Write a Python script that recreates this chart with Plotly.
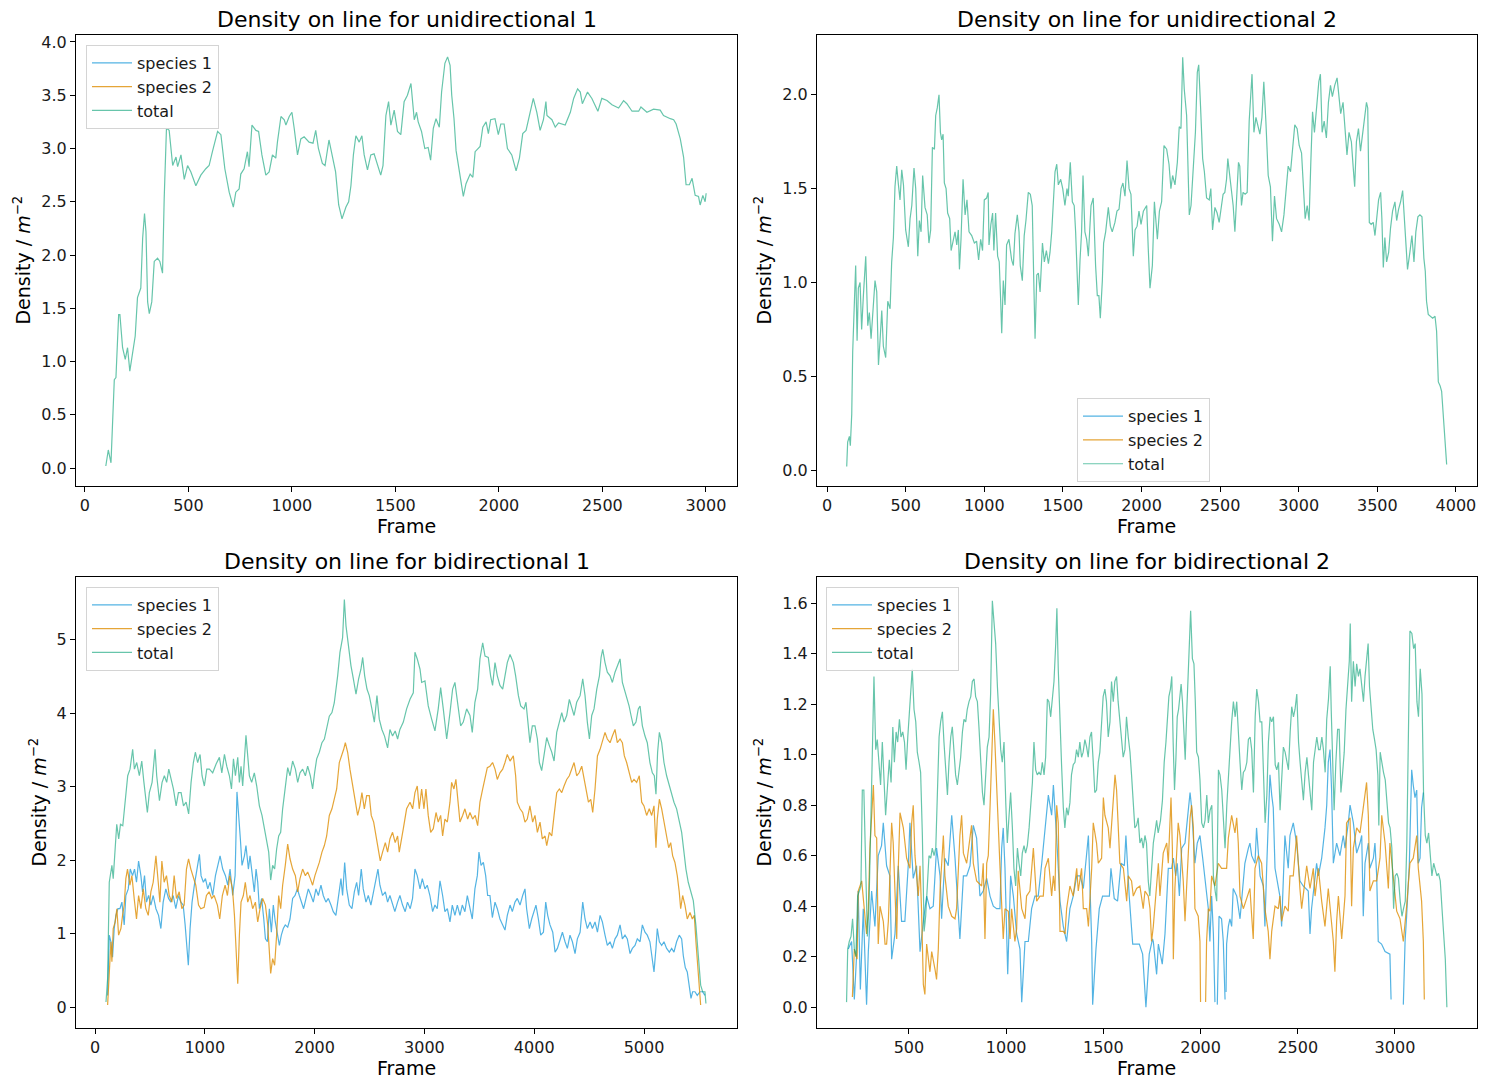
import plotly.graph_objects as go

# ---------------- data: unidirectional 1 ----------------
uni1_frame = [101,110,113,126,134,142,150,163,169,182,
195,206,217,230,243,254,270,279,288,295,
303,311,323,335,351,362,375,383,394,407,
424,440,448,464,480,496,512,536,560,584,
600,616,641,657,676,697,717,729,745,753,
769,785,793,807,826,839,855,874,890,906,
922,930,947,963,971,987,1000,1011,1027,1043,
1059,1083,1102,1115,1128,1147,1160,1179,1195,1211,
1226,1242,1261,1274,1285,1297,1309,1325,1338,1349,
1365,1381,1397,1413,1429,1440,1454,1467,1478,1494,
1510,1526,1542,1558,1575,1591,1602,1610,1626,1642,
1658,1670,1683,1696,1712,1723,1739,1752,1764,1772,
1783,1793,1804,1817,1828,1841,1861,1874,1885,1909,
1922,1938,1949,1960,1981,1997,2009,2025,2041,2062,
2083,2099,2115,2131,2151,2166,2183,2199,2215,2227,
2232,2256,2272,2288,2320,2345,2361,2380,2393,2403,
2428,2449,2478,2497,2522,2546,2578,2602,2618,2643,
2675,2686,2715,2747,2779,2795,2828,2844,2856,2876,
2892,2904,2920,2933,2948,2964,2972,2985,2996,3001]
uni1_total = [0.02,0.16,0.17,0.05,0.50,0.83,0.85,1.44,1.44,1.13,
1.02,1.13,0.91,1.10,1.24,1.60,1.69,2.16,2.39,2.22,
1.56,1.45,1.56,1.94,1.97,1.94,1.83,2.53,3.19,3.17,
2.84,2.92,2.83,2.94,2.71,2.84,2.78,2.65,2.75,2.81,
2.84,2.97,3.16,3.13,2.81,2.59,2.45,2.59,2.62,2.76,
2.81,2.97,2.83,3.22,3.17,3.16,2.94,2.75,2.78,2.94,
2.91,3.06,3.30,3.27,3.22,3.30,3.34,3.19,2.94,3.09,
3.11,3.06,3.05,3.17,3.00,2.86,2.84,3.08,2.94,2.78,
2.47,2.34,2.45,2.50,2.65,2.94,3.12,3.06,3.12,2.94,
2.80,2.94,2.95,2.86,2.75,2.84,3.31,3.44,3.22,3.36,
3.16,3.13,3.44,3.50,3.61,3.27,3.34,3.25,3.16,3.00,
3.01,2.89,3.19,3.28,3.20,3.53,3.80,3.86,3.78,3.50,
3.28,2.98,2.84,2.65,2.55,2.67,2.76,2.73,2.97,3.02,
3.20,3.25,3.14,3.27,3.28,3.13,3.23,3.23,3.00,2.94,
2.79,2.91,3.14,3.17,3.34,3.47,3.34,3.17,3.27,3.44,
3.31,3.27,3.20,3.24,3.22,3.34,3.47,3.56,3.53,3.42,
3.53,3.47,3.35,3.47,3.45,3.41,3.38,3.45,3.42,3.35,
3.35,3.39,3.34,3.37,3.36,3.31,3.28,3.27,3.23,3.09,
2.92,2.66,2.66,2.72,2.56,2.55,2.47,2.56,2.50,2.58]

# ---------------- data: unidirectional 2 ----------------
uni2_frame = [125,131,142,148,157,163,174,182,191,199,
210,220,231,246,259,269,280,295,305,316,
327,337,348,358,373,386,401,411,422,432,
443,454,464,475,486,500,517,528,539,553,
564,577,587,598,608,623,637,648,659,670,
683,691,701,712,721,729,738,746,757,767,
780,789,801,814,825,835,842,852,865,878,
890,903,920,937,951,964,977,989,1000,1015,
1025,1030,1042,1053,1061,1072,1085,1095,1104,1111,
1121,1132,1142,1157,1174,1185,1195,1210,1221,1229,
1242,1254,1265,1280,1293,1305,1314,1323,1334,1344,
1355,1370,1382,1395,1408,1418,1429,1439,1450,1461,
1471,1486,1499,1513,1526,1534,1547,1560,1572,1581,
1589,1598,1609,1619,1628,1640,1651,1662,1679,1693,
1708,1719,1729,1738,1751,1759,1772,1789,1802,1814,
1831,1844,1857,1870,1882,1895,1908,1921,1933,1942,
1948,1959,1972,1984,1997,2012,2033,2043,2054,2069,
2082,2101,2114,2128,2143,2160,2175,2187,2198,2213,
2228,2240,2251,2262,2272,2287,2298,2304,2315,2330,
2343,2355,2364,2376,2389,2400,2414,2431,2441,2452,
2467,2481,2494,2509,2519,2530,2541,2549,2558,2570,
2583,2594,2604,2617,2625,2636,2646,2659,2672,2685,
2703,2715,2728,2740,2753,2766,2778,2791,2806,2820,
2833,2846,2859,2876,2891,2906,2923,2933,2948,2961,
2975,2990,3003,3018,3028,3041,3054,3066,3077,3088,
3100,3113,3128,3138,3149,3162,3176,3189,3202,3214,
3229,3244,3257,3267,3282,3297,3307,3320,3335,3346,
3356,3367,3380,3393,3405,3420,3431,3439,3449,3461,
3474,3485,3495,3508,3521,3529,3538,3548,3559,3572,
3584,3597,3612,3623,3635,3648,3661,3673,3682,3692,
3707,3720,3733,3745,3758,3771,3784,3796,3805,3813,
3824,3839,3852,3867,3877,3888,3899,3909,3920,3930,
3941]
uni2_total = [0.02,0.15,0.18,0.13,0.30,0.63,0.90,1.09,0.69,0.97,
1.00,0.75,0.93,1.14,0.77,0.84,0.70,0.90,1.01,0.95,
0.56,0.69,0.85,0.66,0.60,0.90,0.86,1.11,1.24,1.51,
1.62,1.52,1.44,1.60,1.52,1.28,1.19,1.34,1.41,1.61,
1.50,1.14,1.33,1.27,1.57,1.40,1.36,1.21,1.28,1.72,
1.71,1.89,1.93,2.00,1.80,1.76,1.79,1.53,1.50,1.37,
1.34,1.17,1.21,1.27,1.20,1.28,1.07,1.23,1.55,1.36,
1.44,1.27,1.25,1.21,1.22,1.12,1.23,1.17,1.44,1.45,
1.48,1.20,1.31,1.37,1.17,1.37,1.14,1.11,0.91,0.73,
1.01,0.88,1.20,1.23,1.12,1.09,1.26,1.36,1.27,1.09,
1.01,1.25,1.33,1.48,1.47,1.41,1.04,0.70,1.04,1.05,
0.95,1.21,1.11,1.17,1.10,1.16,1.27,1.43,1.59,1.63,
1.52,1.55,1.50,1.41,1.50,1.46,1.64,1.43,1.41,1.27,
1.06,0.88,1.12,1.27,1.57,1.27,1.23,1.14,1.41,1.45,
1.09,0.93,0.93,0.81,1.01,1.21,1.27,1.40,1.30,1.27,
1.32,1.38,1.39,1.50,1.53,1.46,1.65,1.50,1.47,1.28,
1.14,1.28,1.30,1.38,1.31,1.38,1.41,1.18,0.97,1.09,
1.43,1.23,1.38,1.43,1.73,1.71,1.63,1.50,1.57,1.52,
1.64,1.83,1.82,2.20,2.03,1.89,1.59,1.36,1.41,1.59,
1.80,2.12,2.16,1.93,1.66,1.59,1.45,1.44,1.50,1.28,
1.40,1.37,1.32,1.41,1.47,1.48,1.55,1.66,1.59,1.48,
1.41,1.27,1.45,1.64,1.62,1.41,1.48,1.47,1.48,1.86,
2.11,1.80,1.88,1.83,1.79,1.88,2.07,1.86,1.57,1.51,
1.22,1.46,1.34,1.31,1.27,1.36,1.50,1.62,1.59,1.71,
1.84,1.82,1.73,1.69,1.52,1.34,1.41,1.33,1.64,1.91,
1.80,1.92,2.07,2.11,1.80,1.86,1.77,1.96,2.05,1.99,
2.05,2.09,1.97,1.90,1.96,1.77,1.68,1.80,1.75,1.62,
1.51,1.75,1.82,1.70,1.79,1.88,1.96,1.93,1.32,1.31,
1.32,1.25,1.34,1.44,1.48,1.34,1.08,1.24,1.11,1.16,
1.29,1.38,1.43,1.33,1.39,1.43,1.49,1.34,1.20,1.07,
1.16,1.25,1.11,1.27,1.35,1.36,1.35,1.13,1.06,0.90,
0.83,0.82,0.81,0.82,0.74,0.47,0.45,0.42,0.30,0.17,
0.03]

# ---------------- data: bidirectional 1 ----------------
bi1_total_frame = [100,115,130,154,166,184,198,216,232,253,
277,298,319,343,359,380,404,426,444,465,
477,495,520,547,562,587,611,632,653,672,
693,714,739,760,784,806,830,853,875,896,
914,935,957,975,996,1018,1042,1072,1103,1133,
1155,1179,1200,1224,1243,1261,1279,1300,1315,1330,
1345,1361,1375,1391,1406,1427,1451,1473,1497,1521,
1542,1564,1582,1600,1618,1636,1654,1673,1691,1709,
1733,1755,1776,1800,1825,1846,1867,1891,1916,1937,
1961,1982,2000,2019,2043,2067,2089,2110,2134,2158,
2179,2210,2231,2255,2271,2286,2310,2331,2353,2377,
2401,2422,2438,2456,2477,2498,2522,2544,2568,2589,
2613,2637,2665,2686,2710,2734,2756,2777,2808,2838,
2869,2899,2914,2935,2960,2975,3005,3035,3066,3096,
3126,3148,3172,3203,3233,3257,3278,3309,3330,3354,
3385,3415,3436,3460,3485,3506,3531,3552,3582,3603,
3621,3643,3664,3688,3713,3734,3755,3780,3810,3831,
3856,3877,3907,3925,3946,3961,3983,4007,4029,4047,
4068,4090,4114,4138,4160,4181,4205,4229,4251,4272,
4296,4320,4342,4363,4387,4418,4442,4463,4484,4503,
4524,4545,4570,4594,4609,4624,4645,4666,4691,4712,
4736,4757,4782,4803,4821,4842,4864,4882,4903,4927,
4948,4964,4985,5009,5030,5054,5076,5094,5109,5124,
5140,5161,5182,5206,5231,5252,5273,5297,5321,5343,
5364,5382,5403,5425,5449,5473,5494,5516,5534,5555,
5564]
bi1_total = [0.07,0.39,1.70,1.93,1.75,2.11,2.49,2.29,2.49,2.47,
2.79,3.15,3.24,3.51,3.24,3.33,3.15,3.35,3.08,2.83,
2.65,2.92,3.06,3.51,3.15,2.81,3.06,3.15,3.06,3.24,
3.10,2.97,2.74,2.92,2.92,2.74,2.79,2.63,3.06,3.33,
3.47,3.33,3.44,3.15,3.01,3.24,3.24,3.19,3.31,3.40,
3.19,3.44,3.28,3.15,2.97,3.38,3.15,3.40,3.06,3.28,
3.01,3.33,3.70,3.42,3.15,3.06,3.19,3.01,2.74,2.61,
2.43,2.29,2.11,1.73,1.93,1.88,2.15,2.33,2.38,2.70,
3.01,3.26,3.15,3.35,3.24,3.06,3.19,3.24,3.15,3.28,
3.15,2.97,3.19,3.38,3.47,3.60,3.65,3.78,3.96,4.01,
4.14,4.51,4.83,5.03,5.55,5.19,4.87,4.65,4.47,4.26,
4.47,4.60,4.76,4.51,4.33,4.24,4.06,3.88,4.24,3.92,
3.78,3.69,3.53,3.78,3.69,3.76,3.65,3.78,3.88,4.06,
4.19,4.28,4.83,4.74,4.60,4.42,4.44,4.10,3.92,3.76,
4.06,4.35,4.06,3.65,4.01,4.33,4.42,4.06,3.83,3.88,
4.06,3.97,3.74,4.15,4.33,4.74,4.96,4.78,4.76,4.51,
4.38,4.69,4.51,4.38,4.33,4.51,4.69,4.80,4.69,4.51,
4.24,4.10,4.06,4.15,3.83,3.60,3.83,3.83,3.65,3.33,
3.22,3.47,3.67,3.56,3.47,3.35,3.74,3.88,4.01,3.88,
3.97,4.19,4.06,3.97,4.15,4.24,4.47,4.24,3.88,3.65,
3.97,4.06,4.33,4.51,4.76,4.87,4.69,4.56,4.51,4.42,
4.56,4.65,4.74,4.42,4.33,4.24,4.10,3.97,3.83,3.88,
4.06,4.10,3.83,3.69,3.60,3.33,3.19,3.15,2.90,3.47,
3.74,3.60,3.33,3.15,3.01,2.92,2.79,2.70,2.52,2.38,
2.11,1.88,1.70,1.57,1.45,1.11,0.70,0.30,0.21,0.21,
0.05]
bi1_s2_frame = [115,130,145,154,166,184,199,215,236,251,
266,281,296,318,336,357,378,397,418,439,
463,485,509,530,555,576,591,609,630,651,
676,700,721,742,767,791,812,833,852,873,
894,918,943,964,994,1015,1039,1063,1085,1115,
1136,1160,1185,1206,1227,1252,1270,1282,1300,1315,
1330,1351,1369,1391,1412,1436,1461,1482,1503,1527,
1552,1573,1588,1600,1618,1636,1654,1673,1691,1709,
1733,1755,1776,1800,1825,1846,1867,1891,1916,1937,
1961,1982,2003,2025,2043,2067,2089,2110,2134,2158,
2179,2201,2225,2246,2265,2280,2301,2322,2346,2371,
2392,2413,2431,2453,2474,2498,2516,2538,2559,2580,
2598,2619,2644,2665,2686,2710,2734,2756,2771,2808,
2838,2869,2893,2914,2935,2953,2975,2996,3014,3035,
3057,3081,3106,3126,3148,3166,3187,3209,3233,3248,
3269,3287,3309,3324,3348,3369,3394,3415,3439,3463,
3485,3506,3531,3552,3573,3597,3621,3643,3664,3688,
3713,3734,3755,3780,3810,3831,3846,3871,3895,3916,
3937,3961,3986,4007,4029,4053,4074,4099,4114,4138,
4160,4181,4205,4229,4251,4272,4296,4320,4342,4363,
4387,4409,4433,4448,4472,4494,4515,4533,4554,4576,
4600,4624,4645,4666,4691,4712,4736,4757,4782,4803,
4821,4842,4864,4888,4909,4933,4957,4979,5000,5024,
5048,5070,5091,5109,5121,5140,5161,5182,5206,5225,
5243,5261,5282,5303,5321,5334,5352,5373,5394,5419,
5440,5458,5473,5494,5516]
bi1_species2 = [0.03,0.48,0.89,0.62,1.07,1.16,1.34,0.98,1.07,1.25,
1.39,1.75,1.88,1.66,1.79,1.48,1.20,1.52,1.34,1.61,
1.34,1.25,1.57,1.70,2.06,1.70,1.43,1.99,1.70,1.79,
1.52,1.43,1.79,1.48,1.57,1.34,1.39,1.88,2.02,1.88,
1.79,1.66,1.39,1.34,1.36,1.52,1.57,1.48,1.52,1.39,
1.20,1.52,1.66,1.52,1.79,1.61,1.25,0.80,0.32,0.98,
1.43,1.52,1.70,1.43,1.52,1.34,1.43,1.16,1.34,1.48,
1.39,1.12,0.76,0.46,0.66,0.57,0.98,1.52,1.34,1.66,
1.93,2.22,2.02,1.88,1.79,1.57,1.75,1.88,1.79,1.84,
1.75,1.66,1.79,1.88,1.97,2.11,2.20,2.33,2.61,2.70,
2.83,2.97,3.33,3.42,3.51,3.60,3.47,3.24,3.01,2.79,
2.61,2.74,2.92,2.70,2.88,2.88,2.61,2.52,2.33,2.15,
1.99,2.11,2.24,2.11,2.29,2.38,2.24,2.33,2.11,2.43,
2.70,2.79,2.70,2.92,3.01,2.70,2.97,2.70,2.97,2.61,
2.38,2.43,2.65,2.52,2.61,2.33,2.56,2.52,2.79,3.06,
2.97,3.10,2.74,2.52,2.61,2.70,2.56,2.65,2.56,2.61,
2.47,2.79,2.97,3.10,3.26,3.28,3.33,3.24,3.10,3.19,
3.24,3.33,3.44,3.35,3.42,3.15,2.79,2.70,2.65,2.52,
2.56,2.74,2.52,2.61,2.38,2.52,2.29,2.33,2.20,2.38,
2.33,2.61,2.92,2.97,2.92,3.01,3.10,3.15,3.24,3.33,
3.15,3.19,3.28,3.15,2.97,2.79,2.83,2.65,2.97,3.42,
3.51,3.65,3.74,3.65,3.60,3.69,3.78,3.60,3.65,3.60,
3.42,3.33,3.19,3.06,3.10,3.06,3.15,2.79,2.74,2.61,
2.70,2.61,2.74,2.17,2.56,2.83,2.70,2.52,2.33,2.17,
2.24,2.06,1.97,1.79,1.57,1.34,1.52,1.39,1.20,1.29,
1.20,1.25,0.89,0.43,0.03]
bi1_s1_frame = [115,130,145,160,175,190,209,227,245,266,
281,303,321,342,360,378,397,418,433,451,
469,488,509,530,555,579,600,621,645,670,
691,712,736,760,782,803,821,833,850,866,
884,905,927,951,966,987,1006,1027,1048,1072,
1097,1118,1139,1163,1188,1209,1230,1254,1276,1293,
1309,1324,1339,1361,1375,1397,1412,1430,1451,1467,
1482,1497,1518,1537,1552,1570,1588,1606,1624,1642,
1660,1679,1697,1715,1733,1755,1776,1800,1822,1843,
1861,1882,1900,1922,1943,1967,1988,2012,2034,2058,
2079,2103,2125,2149,2170,2194,2219,2240,2255,2274,
2292,2316,2340,2362,2383,2401,2425,2443,2468,2489,
2513,2537,2559,2577,2595,2619,2644,2665,2686,2710,
2731,2756,2777,2801,2825,2846,2871,2892,2914,2935,
2960,2981,3005,3026,3050,3075,3096,3117,3142,3166,
3187,3209,3233,3254,3278,3300,3324,3345,3369,3391,
3415,3436,3460,3482,3497,3516,3537,3558,3576,3597,
3619,3643,3664,3688,3713,3734,3755,3780,3801,3825,
3846,3871,3895,3916,3931,3956,3977,3998,4016,4038,
4059,4084,4105,4123,4144,4169,4190,4211,4236,4257,
4281,4302,4326,4348,4372,4393,4418,4442,4463,4484,
4509,4530,4554,4576,4600,4621,4645,4666,4691,4712,
4736,4757,4782,4803,4827,4848,4873,4894,4918,4939,
4964,4985,5009,5030,5054,5076,5091,5109,5121,5140,
5161,5182,5206,5231,5252,5273,5297,5321,5343,5358,
5376,5394,5412,5428,5443,5464,5485,5510,5534,5555]
bi1_species1 = [0.16,0.98,0.89,0.68,1.07,1.25,1.34,1.34,1.43,1.12,
1.52,1.61,1.88,1.79,1.88,1.70,1.99,1.79,1.57,1.79,
1.43,1.52,1.39,1.52,1.34,1.25,1.07,1.43,1.61,1.48,
1.43,1.52,1.34,1.52,1.43,1.39,1.12,0.89,0.57,1.07,
1.43,1.66,1.88,2.08,1.79,1.70,1.75,1.61,1.70,1.52,
1.79,1.93,2.06,1.88,1.79,1.66,1.88,1.52,1.79,2.93,
2.52,2.29,1.93,2.06,2.20,1.88,2.06,1.79,1.57,1.88,
1.70,1.34,1.48,1.20,0.93,0.89,1.34,1.02,1.39,1.16,
0.98,0.84,0.98,1.07,1.12,1.09,1.20,1.48,1.52,1.61,
1.52,1.43,1.34,1.48,1.61,1.52,1.43,1.61,1.52,1.66,
1.52,1.43,1.48,1.39,1.30,1.25,1.52,1.75,1.52,1.97,
1.61,1.39,1.34,1.57,1.70,1.52,1.88,1.61,1.43,1.52,
1.39,1.57,1.70,1.88,1.66,1.52,1.57,1.43,1.52,1.39,
1.30,1.43,1.52,1.39,1.30,1.43,1.34,1.48,1.88,1.79,
1.61,1.75,1.61,1.66,1.52,1.30,1.39,1.34,1.72,1.52,
1.30,1.34,1.16,1.39,1.25,1.39,1.25,1.39,1.30,1.52,
1.34,1.20,1.61,1.79,2.11,1.93,1.97,1.79,1.52,1.52,
1.22,1.43,1.34,1.20,1.12,1.05,1.25,1.39,1.30,1.43,
1.48,1.39,1.52,1.61,1.34,1.07,1.20,1.30,1.39,1.20,
0.98,1.02,1.43,1.25,1.12,1.02,0.75,0.80,0.93,1.02,
0.89,0.80,0.98,0.89,0.73,0.93,1.02,1.43,1.20,1.07,
1.16,1.07,1.16,1.02,1.25,1.16,0.98,0.84,0.89,0.80,
0.93,0.98,1.12,0.93,0.98,0.93,0.73,0.80,0.84,0.93,
0.89,1.12,1.02,0.98,0.89,0.66,0.48,0.80,1.07,0.89,
0.84,0.89,0.80,0.75,0.80,0.75,0.89,0.98,0.93,0.70,
0.54,0.48,0.25,0.12,0.21,0.21,0.16,0.21,0.21,0.16]

# ---------------- data: bidirectional 2 ----------------
bi2_total_frame = [179,185,193,202,210,219,227,236,245,253,
260,268,277,286,294,303,312,320,329,337,
346,354,363,372,380,391,399,408,417,425,
434,442,451,459,468,477,485,494,502,511,
517,526,535,543,552,560,569,578,586,595,
603,612,620,629,638,646,655,663,672,680,
689,698,706,715,723,732,740,749,758,766,
775,783,792,800,809,818,826,835,843,852,
860,869,878,886,895,903,912,920,929,938,
946,955,963,972,980,989,998,1006,1015,1023,
1032,1040,1049,1058,1066,1075,1083,1092,1100,1109,
1118,1126,1135,1143,1152,1160,1169,1178,1186,1195,
1203,1212,1220,1229,1238,1246,1255,1261,1268,1276,
1285,1294,1302,1311,1319,1328,1336,1345,1354,1362,
1371,1379,1388,1396,1405,1414,1422,1431,1439,1448,
1456,1465,1474,1482,1491,1499,1508,1516,1525,1534,
1542,1551,1559,1568,1576,1585,1594,1602,1611,1619,
1628,1637,1645,1654,1662,1671,1679,1688,1697,1705,
1714,1722,1731,1739,1748,1757,1765,1774,1782,1794,
1804,1813,1822,1830,1837,1845,1852,1859,1866,1873,
1880,1887,1893,1900,1907,1914,1921,1928,1936,1943,
1949,1958,1966,1973,1980,1989,1997,2006,2015,2023,
2032,2040,2049,2058,2066,2075,2083,2092,2100,2109,
2118,2126,2135,2143,2152,2160,2169,2178,2186,2195,
2203,2212,2220,2229,2238,2246,2255,2263,2272,2281,
2289,2298,2306,2315,2323,2332,2341,2349,2358,2366,
2375,2384,2392,2401,2409,2418,2426,2435,2444,2452,
2461,2469,2478,2486,2495,2504,2512,2521,2529,2538,
2547,2555,2564,2572,2581,2589,2598,2607,2615,2624,
2632,2641,2649,2658,2667,2672,2679,2687,2696,2705,
2713,2722,2730,2739,2748,2756,2765,2770,2777,2786,
2795,2803,2812,2820,2829,2838,2846,2855,2862,2869,
2877,2886,2895,2903,2912,2917,2924,2932,2941,2950,
2958,2967,2975,2984,2993,3001,3010,3018,3027,3036,
3044,3053,3061,3070,3077,3087,3096,3104,3113,3121,
3130,3139,3147,3156,3164,3173,3182,3190,3199,3207,
3216,3224,3233,3242,3250,3259,3267]
bi2_total = [0.02,0.23,0.26,0.28,0.35,0.23,0.20,0.44,0.46,0.48,
0.86,0.86,0.57,0.28,0.39,0.65,1.02,1.31,1.02,1.06,
0.97,0.88,1.05,0.89,0.76,0.89,0.98,0.89,1.11,0.97,
1.09,1.05,1.14,1.07,1.09,1.05,0.94,1.07,1.15,1.27,
1.34,1.18,1.13,1.01,0.97,0.93,0.68,0.30,0.36,0.50,
0.60,0.59,0.63,0.60,0.63,0.84,1.07,1.13,1.17,1.05,
0.93,0.84,0.97,1.07,1.11,0.99,0.92,0.88,0.94,0.99,
1.09,1.14,1.13,1.18,1.21,1.23,1.29,1.30,1.23,1.21,
1.11,0.97,0.85,0.80,0.92,1.03,1.07,1.24,1.61,1.52,
1.44,1.27,1.13,1.02,0.97,1.05,0.81,0.65,0.76,0.85,
0.71,0.55,0.48,0.63,0.57,0.52,0.61,0.64,0.61,0.64,
0.71,0.80,0.89,1.05,0.94,0.92,0.93,0.92,0.97,0.92,
0.99,1.22,1.21,1.15,1.22,1.29,1.44,1.58,1.34,1.13,
0.96,0.79,0.71,0.79,0.76,0.81,0.92,0.96,0.97,1.02,
0.99,1.05,0.99,1.01,1.06,1.03,0.99,1.07,1.09,0.97,
0.85,0.86,0.97,1.01,1.13,1.23,1.26,1.21,1.07,1.13,
1.29,1.21,1.29,1.31,1.21,1.13,1.07,0.99,1.02,1.15,
1.07,1.01,0.92,0.81,0.71,0.72,0.75,0.65,0.67,0.63,
0.68,0.65,0.50,0.44,0.55,0.65,0.69,0.74,0.69,0.74,
0.82,0.97,1.05,1.13,1.23,1.26,1.31,1.05,0.86,0.98,
1.15,1.18,1.24,1.28,1.21,1.11,0.98,1.15,1.29,1.44,
1.57,1.38,1.36,1.21,1.01,0.99,0.90,0.73,0.71,0.74,
0.84,0.73,0.78,0.80,0.52,0.46,0.42,0.94,0.92,0.86,
0.71,0.63,0.80,0.92,1.06,1.13,1.21,1.15,1.21,1.05,
0.97,0.86,0.93,0.94,0.97,1.06,1.07,1.02,0.85,1.15,
1.26,1.21,1.13,1.13,0.94,0.73,0.84,1.05,1.15,1.13,
1.15,0.96,0.94,0.97,0.78,0.92,1.03,1.01,0.97,0.94,
1.09,1.19,1.15,1.18,1.24,1.05,0.97,0.89,0.82,0.93,
0.99,0.92,0.84,0.78,0.97,1.02,1.07,1.02,1.02,1.07,
1.02,0.93,1.14,1.22,1.35,1.18,0.97,0.78,0.97,1.10,
1.10,0.85,0.92,1.01,1.18,1.26,1.37,1.52,1.21,1.37,
1.27,1.36,1.31,1.34,1.26,1.21,1.31,1.39,1.44,1.27,
1.18,1.10,1.06,1.02,0.92,0.72,1.01,0.97,0.93,0.90,
0.81,0.73,0.71,0.63,0.39,0.52,0.53,0.51,0.42,0.36,
0.39,0.42,0.65,1.18,1.49,1.48,1.42,1.44,1.21,1.15,
1.34,1.24,0.85,0.68,0.65,0.69,0.60,0.52,0.57,0.55,
0.52,0.53,0.50,0.39,0.28,0.19,0.00]
bi2_s1_frame = [188,205,219,231,239,250,265,282,291,308,
325,342,359,368,385,402,411,428,445,462,
479,497,505,522,539,557,574,591,608,625,
642,660,668,685,702,720,737,754,762,780,
797,814,831,848,865,882,900,917,934,951,
968,977,985,994,1008,1023,1037,1054,1071,1080,
1097,1114,1131,1148,1165,1183,1200,1217,1234,1243,
1260,1277,1294,1311,1328,1345,1363,1380,1397,1414,
1423,1440,1445,1462,1479,1496,1513,1531,1539,1556,
1573,1591,1608,1616,1633,1651,1668,1685,1702,1719,
1736,1753,1757,1774,1783,1803,1817,1826,1834,1851,
1860,1872,1880,1891,1903,1920,1937,1946,1954,1963,
1971,1983,1997,2011,2023,2040,2048,2057,2066,2074,
None,2086,2095,2108,2117,2126,None,2131,2134,2143,
2151,2160,2168,2186,2203,2211,2228,2246,2254,2263,
2280,2288,2297,2306,2323,2331,2340,2349,2357,2366,
2374,2383,2400,2408,2417,2426,2434,2451,2460,2477,
2494,2511,2528,2554,2563,2571,2588,2597,2606,2623,
2640,2649,2657,2666,2674,2683,2700,2717,2734,2743,
2760,2769,2786,2803,2820,2829,2837,2846,2863,2871,
2889,2897,2906,2914,2931,2949,2974,2980,None,3043,
3052,3060,3074,3081,3086,3094,3103,3112,3120,3129,
3137,3146]
bi2_species1 = [0.23,0.26,0.03,0.21,0.46,0.07,0.39,0.01,0.22,0.46,
0.32,0.60,0.64,0.73,0.56,0.52,0.19,0.29,0.56,0.34,
0.34,0.57,0.73,0.51,0.56,0.22,0.34,0.44,0.39,0.40,
0.63,0.52,0.35,0.59,0.56,0.76,0.59,0.34,0.27,0.52,
0.52,0.56,0.72,0.67,0.44,0.46,0.51,0.44,0.40,0.39,
0.39,0.63,0.71,0.55,0.13,0.52,0.44,0.29,0.23,0.02,
0.26,0.26,0.39,0.44,0.44,0.57,0.71,0.84,0.76,0.88,
0.67,0.42,0.32,0.26,0.39,0.44,0.52,0.52,0.47,0.60,
0.68,0.26,0.01,0.23,0.39,0.44,0.44,0.44,0.55,0.43,
0.42,0.57,0.56,0.68,0.44,0.25,0.25,0.25,0.21,0.00,
0.21,0.27,0.26,0.13,0.25,0.17,0.29,0.44,0.55,0.55,
0.59,0.52,0.57,0.44,0.63,0.65,0.79,0.85,0.79,0.65,
0.57,0.65,0.68,0.59,0.50,0.39,0.26,0.44,0.29,0.02,
None,0.01,0.36,0.35,0.26,0.03,None,0.06,0.25,0.32,
0.35,0.32,0.47,0.44,0.35,0.42,0.57,0.63,0.65,0.60,
0.57,0.71,0.63,0.52,0.48,0.32,0.55,0.79,0.92,0.84,
0.79,0.55,0.47,0.44,0.32,0.55,0.68,0.55,0.68,0.73,
0.65,0.50,0.48,0.46,0.29,0.39,0.52,0.57,0.52,0.59,
0.71,0.80,0.97,1.02,0.86,0.57,0.65,0.60,0.68,0.63,
0.73,0.80,0.73,0.61,0.65,0.68,0.36,0.57,0.65,0.55,
0.59,0.65,0.52,0.26,0.25,0.22,0.21,0.03,None,0.01,
0.26,0.36,0.57,0.79,0.94,0.88,0.83,0.86,0.57,0.59,
0.79,0.85]
bi2_s2_frame = [209,219,233,239,257,274,282,291,299,317,
325,334,342,351,368,377,385,394,411,419,
428,437,445,454,471,488,505,514,522,531,
548,557,565,574,582,591,608,617,634,642,
651,660,677,685,702,720,737,745,762,771,
780,797,822,831,848,874,882,891,900,908,
917,925,934,942,951,960,968,977,985,994,
1011,1020,1028,1045,1054,1062,1080,1097,1105,1122,
1140,1157,1174,1191,1200,1217,1234,1243,1251,1260,
1268,1277,1294,1303,1311,1328,1345,1363,1371,1388,
1397,1414,1423,1440,1448,1465,1474,1491,1500,1508,
1525,1534,1551,1560,1568,1577,1585,1603,1620,1628,
1645,1654,1671,1688,1705,1714,1731,1740,1748,1757,
1774,1783,1791,1808,1826,1834,1848,1855,1860,1868,
1885,1894,1911,1920,1928,1946,1954,1963,1971,1988,
1997,2000,None,2026,2031,2040,2048,2057,2074,2091,
2108,2134,2143,2160,2177,2186,2194,2203,2220,2237,
2254,2263,2271,2280,2297,2314,2331,2348,2357,2366,
2383,2400,2408,2417,2434,2451,2460,2477,2494,2511,
2520,2537,2546,2563,2580,2589,2606,2623,2640,2657,
2674,2683,2691,2700,2709,2726,2743,2751,2769,2777,
2786,2803,2820,2837,2854,2863,2871,2889,2906,2923,
2932,2949,2966,2974,2991,3009,3026,3043,3060,3077,
3094,3112,3120,3137,3146,3151]
bi2_species2 = [0.04,0.23,0.19,0.46,0.50,0.34,0.29,0.39,0.63,0.88,
0.68,0.67,0.25,0.40,0.34,0.25,0.25,0.34,0.73,0.65,
0.43,0.27,0.55,0.77,0.71,0.59,0.55,0.73,0.80,0.60,
0.44,0.56,0.38,0.09,0.05,0.25,0.14,0.22,0.15,0.11,
0.23,0.46,0.68,0.52,0.40,0.36,0.35,0.39,0.68,0.76,
0.61,0.57,0.72,0.57,0.50,0.48,0.57,0.27,0.57,0.60,
0.79,0.97,1.18,1.05,0.85,0.71,0.56,0.43,0.27,0.39,
0.38,0.27,0.39,0.26,0.31,0.54,0.39,0.35,0.44,0.46,
0.63,0.42,0.44,0.44,0.55,0.59,0.44,0.52,0.46,0.80,
0.73,0.30,0.30,0.29,0.39,0.48,0.44,0.55,0.46,0.55,
0.39,0.39,0.32,0.55,0.73,0.65,0.57,0.59,0.83,0.76,
0.71,0.63,0.81,0.92,0.86,0.71,0.57,0.55,0.42,0.52,
0.50,0.44,0.47,0.48,0.39,0.46,0.44,0.39,0.26,0.32,
0.48,0.57,0.44,0.61,0.65,0.57,0.83,0.63,0.19,0.47,
0.73,0.68,0.50,0.34,0.47,0.75,0.80,0.71,0.39,0.36,
0.26,0.02,None,0.02,0.26,0.39,0.38,0.52,0.48,0.57,
0.55,0.55,0.67,0.76,0.69,0.75,0.65,0.44,0.39,0.43,
0.47,0.36,0.27,0.55,0.60,0.57,0.39,0.30,0.19,0.30,
0.40,0.39,0.44,0.34,0.40,0.38,0.52,0.52,0.68,0.47,
0.39,0.50,0.56,0.47,0.55,0.44,0.55,0.42,0.32,0.47,
0.34,0.26,0.14,0.34,0.44,0.27,0.44,0.73,0.75,0.40,
0.63,0.71,0.69,0.80,0.89,0.76,0.46,0.50,0.50,0.59,
0.76,0.65,0.47,0.65,0.52,0.38,0.35,0.26,0.40,0.57,
0.59,0.68,0.55,0.42,0.26,0.03]

pairs = [(uni1_frame, uni1_total), (uni2_frame, uni2_total),
         (bi1_total_frame, bi1_total), (bi1_s2_frame, bi1_species2),
         (bi1_s1_frame, bi1_species1), (bi2_total_frame, bi2_total),
         (bi2_s1_frame, bi2_species1), (bi2_s2_frame, bi2_species2)]
for a, b in pairs:
    assert len(a) == len(b), (len(a), len(b))

titles = ["Density on line for unidirectional 1", "Density on line for unidirectional 2",
          "Density on line for bidirectional 1", "Density on line for bidirectional 2"]
series_names = ["species 1", "species 2", "total"]

# ---------------- style ----------------
W, H = 1486, 1089
FONT = "DejaVu Sans"
C_S1 = "rgba(40,160,220,0.8)"
C_S2 = "rgba(222,143,5,0.8)"
C_TOT = "rgba(2,158,115,0.6)"

def px_x(p):
    return p / W

def px_y(p):
    return 1 - p / H

XD = [[px_x(76), px_x(737)], [px_x(817), px_x(1477)]]
YD = [[px_y(485), px_y(33)], [px_y(1028), px_y(576)]]

# In the unidirectional runs the species curve coincides with the total,
# so only the total curve is visible (species entries stay in the legend).
panels = [
    dict(s1=(None, None), s2=(None, None), tot=(uni1_frame, uni1_total),
         xr=[-43, 3150], yr=[-0.169, 4.066], xd=XD[0], yd=YD[0], dx=500, dy=0.5, yf=".1f",
         x0=0, leg=(86, 43), ylabx=22),
    dict(s1=(None, None), s2=(None, None), tot=(uni2_frame, uni2_total),
         xr=[-64, 4134], yr=[-0.085, 2.319], xd=XD[1], yd=YD[0], dx=500, dy=0.5, yf=".1f",
         x0=0, leg=(1077, 397), ylabx=763),
    dict(s1=(bi1_s1_frame, bi1_species1), s2=(bi1_s2_frame, bi1_species2), tot=(bi1_total_frame, bi1_total),
         xr=[-173, 5847], yr=[-0.285, 5.856], xd=XD[0], yd=YD[1], dx=1000, dy=1, yf="d",
         x0=0, leg=(86, 586), ylabx=38),
    dict(s1=(bi2_s1_frame, bi2_species1), s2=(bi2_s2_frame, bi2_species2), tot=(bi2_total_frame, bi2_total),
         xr=[27, 3422], yr=[-0.083, 1.704], xd=XD[1], yd=YD[1], dx=500, dy=0.2, yf=".1f",
         x0=500, leg=(826, 586), ylabx=763),
]

fig = go.Figure()
layout = dict(width=W, height=H, margin=dict(l=0, r=0, t=0, b=0),
              paper_bgcolor="white", plot_bgcolor="white",
              font=dict(family=FONT, size=16, color="black"),
              annotations=[])

for i, p in enumerate(panels):
    n = i + 1
    sfx = "" if n == 1 else str(n)
    legname = "legend" + sfx
    for (xs, ys), name, col in zip([p["s1"], p["s2"], p["tot"]], series_names, [C_S1, C_S2, C_TOT]):
        xv = xs if xs is not None else [None]
        yv = ys if ys is not None else [None]
        fig.add_trace(go.Scatter(x=xv, y=yv, mode="lines", name=name,
                                 line=dict(color=col, width=1.2),
                                 xaxis="x" + sfx, yaxis="y" + sfx, legend=legname,
                                 connectgaps=False, showlegend=True))
    axcommon = dict(showline=True, mirror=True, linecolor="black", linewidth=1,
                    ticks="outside", ticklen=5, tickwidth=1, tickcolor="black",
                    showgrid=False, zeroline=False,
                    tickfont=dict(family=FONT, size=16, color="#1a1a1a"))
    layout["xaxis" + sfx] = dict(axcommon, domain=p["xd"], range=p["xr"], anchor="y" + sfx,
                                 tick0=p["x0"], dtick=p["dx"])
    layout["yaxis" + sfx] = dict(axcommon, domain=p["yd"], range=p["yr"], anchor="x" + sfx,
                                 tick0=0, dtick=p["dy"], tickformat=p["yf"])
    lx, ly = p["leg"]
    layout[legname] = dict(x=px_x(lx), y=px_y(ly), xanchor="left", yanchor="top",
                           bgcolor="rgba(255,255,255,0.85)", bordercolor="#d4d4d4", borderwidth=1,
                           itemwidth=40,
                           font=dict(family=FONT, size=16, color="#1a1a1a"))
    xc = (p["xd"][0] + p["xd"][1]) / 2
    top_px = 33 if i < 2 else 576
    bot_px = 485 if i < 2 else 1028
    layout["annotations"].append(dict(text=titles[i], x=xc, y=px_y(top_px - 15), xref="paper", yref="paper",
                                      xanchor="center", yanchor="middle", showarrow=False,
                                      font=dict(family=FONT, size=22, color="black")))
    layout["annotations"].append(dict(text="Frame", x=xc, y=px_y(bot_px + 40), xref="paper", yref="paper",
                                      xanchor="center", yanchor="middle", showarrow=False,
                                      font=dict(family=FONT, size=19, color="black")))
    yc = (p["yd"][0] + p["yd"][1]) / 2
    layout["annotations"].append(dict(text="Density / <i>m</i><sup>\u22122</sup>", x=px_x(p["ylabx"]), y=yc,
                                      xref="paper", yref="paper", xanchor="center", yanchor="middle",
                                      textangle=-90, showarrow=False,
                                      font=dict(family=FONT, size=19, color="black")))

fig.update_layout(**layout)
fig.write_html("out.html")
